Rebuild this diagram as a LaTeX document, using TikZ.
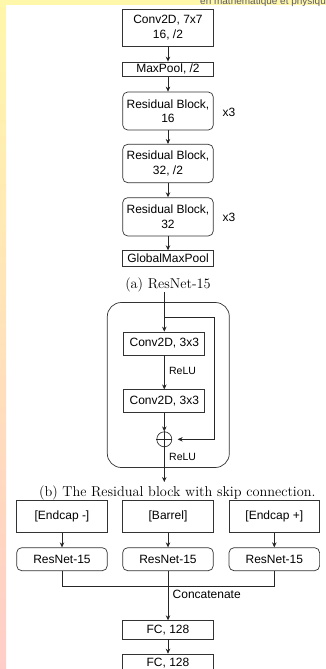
\documentclass[tikz,border=0pt]{standalone}
\usepackage{fontspec}
\newfontfamily\arialf{Liberation Sans}
\usetikzlibrary{arrows.meta}
\definecolor{stripY}{RGB}{255,247,170}
\definecolor{stripM}{RGB}{255,226,185}
\definecolor{stripP}{RGB}{255,205,200}
\definecolor{hdrtext}{RGB}{90,90,105}
\tikzset{
  box/.style={draw=black!80, line width=0.7pt, minimum width=90.6pt, inner sep=0pt,
    font=\arialf\fontsize{12}{14.3}\selectfont, align=center},
  rbox/.style={box, rounded corners=5pt},
  arr/.style={-{Stealth[length=5pt,width=4.5pt]}, line width=0.7pt, draw=black!85},
  ln/.style={line width=0.7pt, draw=black!85},
  lbl/.style={font=\arialf\fontsize{12}{14.3}\selectfont, inner sep=0pt},
  smlbl/.style={font=\arialf\fontsize{10.5}{12}\selectfont, inner sep=0pt},
  captext/.style={font=\fontsize{14.3}{17}\selectfont, inner sep=0pt}
}
\begin{document}
\begin{tikzpicture}[x=1pt,y=-1pt]
\useasboundingbox (0,0) rectangle (326,669);
\fill[white] (0,0) rectangle (326,669);
\begin{scope}
\clip (0,0) rectangle (326,669);
\fill[stripY] (0,0) rectangle (326,5);
\fill[top color=stripY, middle color=stripM, bottom color=stripP] (0,0) rectangle (6,669);
\node[anchor=base west, font=\arialf\fontsize{10}{12}\selectfont, text=hdrtext, inner sep=0pt] (hdr) at (200,4.2) {en mathématique et physique};

% (a) ResNet-15
\node[box, minimum height=36.7pt] (conv) at (168,27.7) {Conv2D, 7x7\\16, /2};
\node[box, minimum height=14.7pt] (mp) at (168,69.3) {MaxPool, /2};
\node[rbox, minimum height=38pt] (r1) at (168,111) {Residual Block,\\16};
\node[rbox, minimum height=38.4pt] (r2) at (168,163.5) {Residual Block,\\32, /2};
\node[rbox, minimum height=38.3pt] (r3) at (168,216.8) {Residual Block,\\32};
\node[box, minimum height=15.3pt] (gmp) at (168,258.3) {GlobalMaxPool};
\node[lbl] (x1) at (229,112) {x3};
\node[lbl] (x2) at (229,217) {x3};
\draw[arr] (conv) -- (mp);
\draw[arr] (mp) -- (r1);
\draw[arr] (r1) -- (r2);
\draw[arr] (r2) -- (r3);
\draw[arr] (r3) -- (gmp);
\node[captext] (capa) at (168,284.5) {(a) ResNet-15};

% (b) Residual block
\node[draw=black!80, line width=0.7pt, rounded corners=14pt, minimum width=122pt, minimum height=165pt, inner sep=0pt] (rb) at (168.3,385) {};
\coordinate (in) at (164.3,292);
\coordinate (br) at (164.3,317);
\coordinate (sk1) at (214.3,317);
\coordinate (sk2) at (214.3,439.3);
\node[box, minimum width=81pt, minimum height=23pt] (c1) at (164.3,343.5) {Conv2D, 3x3};
\node[box, minimum width=81pt, minimum height=23pt] (c2) at (164.3,401.3) {Conv2D, 3x3};
\node[circle, draw=black!80, line width=0.7pt, minimum size=15pt, inner sep=0pt] (plus) at (164.3,439.3) {};
\draw[ln] (plus.north) -- (plus.south) (plus.west) -- (plus.east);
\coordinate (out) at (164.3,482);
\draw[arr] (in) -- (c1);
\draw[arr] (c1) -- (c2) node[smlbl, pos=0.45, anchor=west, xshift=4.5pt] (relu1) {ReLU};
\draw[arr] (c2) -- (plus);
\draw[arr] (br) -- (sk1) -- (sk2) -- ([xshift=5.5pt]plus.east);
\draw[arr] (plus) -- (out);
\node[smlbl, anchor=west] (relu2) at (169,456.7) {ReLU};
\node[captext] (capb) at (177.3,493.3) {(b) The Residual block with skip connection.};

% (c) full model
\node[box, minimum height=32.7pt] (el) at (62,516.3) {[Endcap -]};
\node[box, minimum height=32.7pt] (ba) at (168,516.3) {[Barrel]};
\node[box, minimum height=32.7pt] (er) at (274.3,516.3) {[Endcap +]};
\node[rbox, minimum height=23pt] (rl) at (62,559.2) {ResNet-15};
\node[rbox, minimum height=23pt] (rm) at (168,559.2) {ResNet-15};
\node[rbox, minimum height=23pt] (rr) at (274.3,559.2) {ResNet-15};
\draw[arr] (el) -- (rl);
\draw[arr] (ba) -- (rm);
\draw[arr] (er) -- (rr);
\coordinate (m) at (168,586);
\node[box, minimum height=18.3pt] (fc1) at (168,629.8) {FC, 128};
\node[box, minimum height=18.3pt] (fc2) at (168,663.2) {FC, 128};
\draw[ln] (rl.south) -- (rl.south |- m) -- (rr.south |- m) -- (rr.south);
\draw[arr] (rm) -- (fc1);
\draw[arr] (fc1) -- (fc2);
\node[lbl, anchor=west] (concat) at (172.5,594) {Concatenate};
\end{scope}
\end{tikzpicture}
\end{document}
